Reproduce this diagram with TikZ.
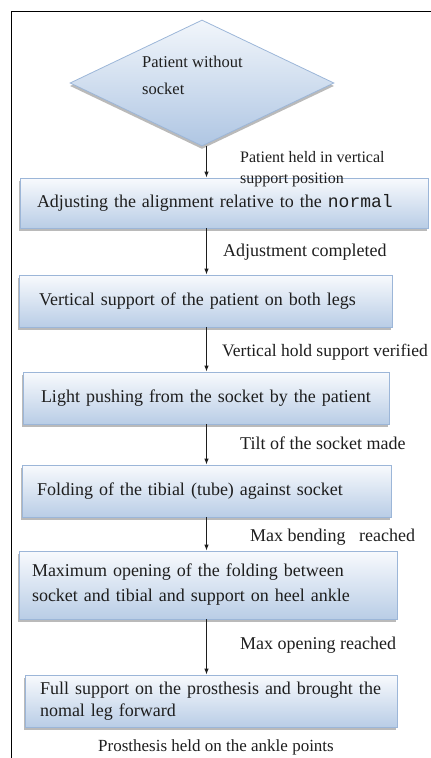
\documentclass[tikz,border=0pt]{standalone}
\usepackage{fontspec}
\setmainfont{Liberation Serif}
\setmonofont{Liberation Mono}
\usetikzlibrary{shapes.geometric,shadows,arrows.meta}
\definecolor{boxtop}{HTML}{F8FAFD}
\definecolor{boxbot}{HTML}{B9CDE6}
\definecolor{boxline}{HTML}{9CB6D8}
\definecolor{dmdtop}{HTML}{F2F6FB}
\definecolor{dmdbot}{HTML}{AFC6E3}
\definecolor{ink}{HTML}{1E1E1E}
\tikzset{
  stepbox/.style={rectangle, draw=boxline, line width=0.8pt,
    top color=boxtop, bottom color=boxbot,
    drop shadow={shadow xshift=-1.5pt, shadow yshift=-3pt, opacity=0.45, fill=black!60},
    text=ink, font=\fontsize{18}{22}\selectfont, align=left, inner ysep=0pt},
  decision/.style={diamond, draw=boxline, line width=0.8pt,
    top color=dmdtop, bottom color=dmdbot,
    drop shadow={shadow xshift=0pt, shadow yshift=-3pt, opacity=0.45, fill=black!60},
    inner sep=0pt},
  lbl/.style={anchor=west, inner sep=0pt, text=ink, font=\fontsize{18}{22}\selectfont, align=left},
  arr/.style={-{Latex[length=6pt,width=4.5pt]}, line width=0.9pt, draw=ink},
}
\begin{document}
\begin{tikzpicture}[x=1pt,y=-1pt]
\useasboundingbox (0,0) rectangle (431,758);
% frame
\coordinate (fbl) at (11,758);
\coordinate (ftl) at (11,11);
\coordinate (ftr) at (431,11);
\draw[line width=1pt, black] (fbl) -- (ftl) -- (ftr);

% decision
\node[decision, minimum width=264pt, minimum height=126pt] (start) at (202,83) {};
\node[anchor=north west, inner sep=0pt, text=ink, align=left,
      font=\fontsize{16.5}{27}\selectfont] (starttxt) at (142,56) {Patient without\\socket};

% boxes
\node[stepbox, minimum width=408pt, minimum height=50pt, inner xsep=17pt, text width=374pt] (b1) at (224,203)
  {Adjusting the alignment relative to the \texttt{normal}};
\node[stepbox, minimum width=373pt, minimum height=52pt, inner xsep=20pt, text width=333pt] (b2) at (205.5,301)
  {Vertical support of the patient on both legs};
\node[stepbox, minimum width=366pt, minimum height=52pt, inner xsep=18pt, text width=330pt] (b3) at (206,398)
  {Light pushing from the socket by the patient};
\node[stepbox, minimum width=369pt, minimum height=52pt, inner xsep=15pt, text width=339pt] (b4) at (206.5,491)
  {Folding of the tibial (tube) against socket};
\node[stepbox, minimum width=378pt, minimum height=68pt, inner xsep=13pt, text width=352pt,
      font=\fontsize{18}{25}\selectfont] (b5) at (208,585)
  {Maximum opening of the folding between\\socket and tibial and support on heel ankle};
\node[stepbox, minimum width=372pt, minimum height=52pt, inner xsep=15pt, text width=342pt] (b6) at (211,701)
  {Full support on the prosthesis and brought the\\nomal leg forward};

% arrows
\coordinate (ax) at (206.5,0);
\draw[arr] (start.south -| ax) -- (b1.north -| ax);
\draw[arr] (b1.south -| ax) -- (b2.north -| ax);
\draw[arr] (b2.south -| ax) -- (b3.north -| ax);
\draw[arr] (b3.south -| ax) -- (b4.north -| ax);
\draw[arr] (b4.south -| ax) -- (b5.north -| ax);
\draw[arr] (b5.south -| ax) -- (b6.north -| ax);

% labels
\node[lbl, anchor=north west, font=\fontsize{16}{21}\selectfont] (l1) at (240,151)
  {Patient held in vertical\\support position};
\node[lbl] (l2) at (223,252) {Adjustment completed};
\node[lbl, font=\fontsize{17.5}{22}\selectfont] (l3) at (222,352) {Vertical hold support verified};
\node[lbl] (l4) at (240,443) {Tilt of the socket made};
\node[lbl] (l5) at (250,537) {Max bending\ \ \ reached};
\node[lbl] (l6) at (240,645) {Max opening reached};
\node[lbl, font=\fontsize{17}{20}\selectfont] (l7) at (98,747) {Prosthesis held on the ankle points};
\end{tikzpicture}
\end{document}
